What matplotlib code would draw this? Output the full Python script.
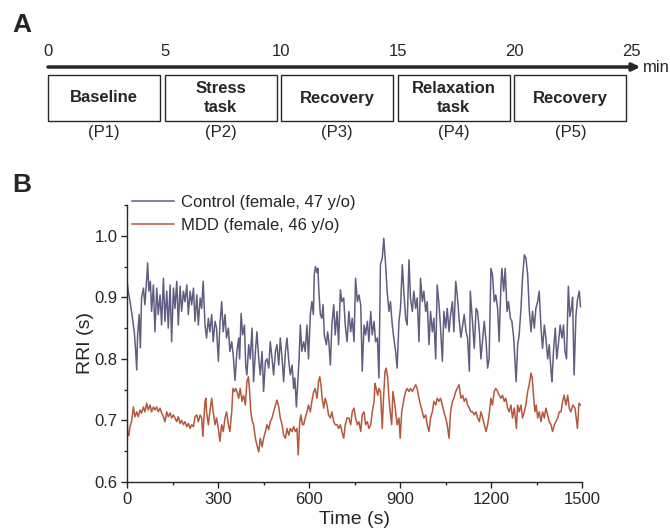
import matplotlib
matplotlib.use('Agg')
import matplotlib.pyplot as plt
from matplotlib.patches import Rectangle
from matplotlib.ticker import MultipleLocator, FormatStrFormatter

plt.rcParams['font.family'] = ['Liberation Sans', 'DejaVu Sans']

# ---- panel A: protocol timeline ----
minute_ticks = [0, 5, 10, 15, 20, 25]
phase_starts = [0, 5, 10, 15, 20]
phase_labels = ['Baseline', 'Stress\ntask', 'Recovery', 'Relaxation\ntask', 'Recovery']
phase_ids = ['(P1)', '(P2)', '(P3)', '(P4)', '(P5)']

# ---- panel B: RRI traces ----
ctrl_t = [0, 4, 10, 15, 21, 24, 28, 32, 35, 40,
          44, 48, 54, 59, 65, 68, 72, 77, 81, 87,
          92, 98, 103, 109, 114, 120, 125, 131, 136, 142,
          147, 153, 158, 164, 169, 175, 180, 186, 191, 197,
          202, 208, 213, 219, 224, 230, 235, 241, 246, 251,
          257, 262, 268, 273, 279, 284, 290, 295, 301, 306,
          312, 317, 323, 328, 334, 339, 345, 350, 356, 362,
          368, 371, 376, 381, 387, 391, 395, 401, 406, 412,
          417, 423, 428, 434, 439, 445, 450, 456, 461, 467,
          472, 478, 483, 489, 494, 500, 505, 511, 516, 522,
          527, 533, 538, 544, 549, 553, 558, 562, 567, 571,
          576, 582, 587, 593, 598, 604, 609, 614, 617, 621,
          626, 629, 632, 637, 642, 646, 650, 657, 661, 665,
          670, 675, 681, 686, 692, 697, 703, 708, 714, 719,
          725, 731, 737, 742, 748, 753, 759, 764, 770, 775,
          781, 786, 792, 797, 803, 808, 814, 819, 825, 830,
          835, 841, 846, 852, 857, 863, 868, 874, 879, 885,
          890, 896, 901, 907, 912, 918, 923, 929, 934, 940,
          945, 951, 956, 962, 967, 973, 978, 984, 989, 995,
          1000, 1006, 1011, 1017, 1022, 1028, 1033, 1039, 1044, 1050,
          1055, 1061, 1066, 1072, 1077, 1083, 1088, 1094, 1100, 1106,
          1111, 1117, 1122, 1128, 1131, 1139, 1144, 1150, 1155, 1161,
          1166, 1172, 1177, 1183, 1188, 1193, 1199, 1204, 1210, 1215,
          1221, 1226, 1232, 1235, 1241, 1246, 1252, 1257, 1263, 1268,
          1274, 1279, 1282, 1287, 1292, 1298, 1303, 1309, 1314, 1320,
          1325, 1331, 1336, 1342, 1347, 1353, 1358, 1364, 1369, 1375,
          1380, 1386, 1391, 1397, 1400, 1405, 1411, 1416, 1422, 1427,
          1433, 1438, 1443, 1448, 1454, 1459, 1465, 1468, 1473, 1479,
          1484, 1490, 1494]
ctrl_rri = [.928, .910, .893, .877, .855, .844, .817, .782, .839, .872,
            .818, .899, .915, .888, .931, .956, .910, .926, .877, .920,
            .844, .915, .872, .904, .855, .931, .861, .910, .850, .920,
            .828, .915, .882, .926, .855, .918, .877, .910, .893, .920,
            .872, .910, .888, .915, .861, .904, .855, .899, .882, .926,
            .855, .834, .866, .844, .872, .828, .861, .850, .796, .855,
            .893, .844, .872, .834, .850, .812, .828, .806, .765, .812,
            .834, .800, .874, .839, .855, .790, .774, .823, .800, .850,
            .763, .812, .844, .800, .774, .812, .747, .796, .800, .785,
            .828, .800, .774, .812, .823, .790, .834, .800, .763, .812,
            .834, .796, .774, .790, .752, .769, .722, .758, .800, .855,
            .812, .828, .812, .855, .800, .872, .893, .872, .937, .950,
            .940, .947, .910, .872, .866, .888, .839, .823, .844, .828,
            .790, .855, .888, .839, .877, .823, .912, .893, .899, .855,
            .828, .877, .844, .866, .828, .931, .893, .904, .888, .780,
            .855, .839, .861, .828, .877, .839, .861, .828, .834, .769,
            .953, .964, .996, .953, .910, .877, .893, .855, .834, .812,
            .785, .861, .882, .953, .910, .866, .855, .961, .899, .877,
            .910, .882, .899, .828, .931, .893, .910, .877, .893, .823,
            .877, .844, .866, .800, .920, .888, .850, .796, .877, .850,
            .882, .844, .872, .893, .844, .926, .904, .866, .835, .855,
            .872, .844, .834, .780, .910, .855, .817, .882, .877, .844,
            .800, .834, .861, .828, .785, .800, .947, .937, .893, .904,
            .882, .828, .920, .947, .910, .947, .877, .893, .866, .861,
            .834, .790, .763, .823, .839, .882, .931, .969, .964, .937,
            .882, .844, .877, .850, .882, .893, .910, .850, .817, .855,
            .834, .800, .823, .780, .763, .812, .850, .800, .828, .855,
            .834, .855, .812, .800, .918, .869, .885, .900, .774, .870,
            .896, .910, .885]

mdd_t = [0, 2, 6, 10, 15, 21, 26, 32, 37, 43,
         48, 54, 59, 65, 70, 76, 81, 87, 92, 98,
         103, 109, 114, 120, 125, 131, 136, 142, 147, 153,
         158, 164, 169, 175, 180, 186, 191, 197, 202, 208,
         213, 219, 224, 230, 235, 241, 246, 250, 253, 257,
         260, 262, 268, 273, 279, 284, 290, 295, 301, 306,
         312, 317, 323, 328, 334, 339, 345, 349, 354, 358,
         362, 368, 373, 379, 384, 390, 395, 400, 404, 408,
         413, 417, 423, 428, 434, 439, 445, 450, 456, 461,
         467, 472, 478, 483, 489, 494, 500, 505, 511, 516,
         522, 527, 533, 538, 544, 549, 555, 560, 564, 569,
         573, 578, 582, 587, 593, 598, 604, 609, 615, 620,
         626, 631, 635, 639, 643, 648, 653, 659, 664, 670,
         675, 681, 686, 692, 697, 703, 708, 714, 719, 725,
         731, 737, 742, 748, 753, 759, 764, 770, 775, 781,
         786, 792, 797, 803, 808, 814, 817, 821, 826, 830,
         835, 841, 845, 850, 854, 859, 863, 867, 872, 876,
         881, 885, 890, 896, 900, 905, 909, 913, 918, 923,
         929, 934, 940, 945, 951, 956, 962, 967, 973, 978,
         984, 989, 995, 1000, 1006, 1011, 1017, 1022, 1028, 1033,
         1039, 1044, 1050, 1055, 1061, 1066, 1072, 1077, 1083, 1088,
         1094, 1100, 1106, 1111, 1117, 1122, 1128, 1133, 1139, 1144,
         1150, 1155, 1161, 1166, 1172, 1177, 1183, 1188, 1193, 1199,
         1204, 1210, 1215, 1221, 1226, 1232, 1237, 1243, 1248, 1254,
         1259, 1265, 1270, 1276, 1283, 1287, 1292, 1298, 1303, 1309,
         1314, 1320, 1325, 1331, 1335, 1340, 1344, 1348, 1353, 1358,
         1364, 1369, 1375, 1380, 1386, 1391, 1397, 1402, 1408, 1413,
         1419, 1424, 1430, 1435, 1440, 1446, 1452, 1457, 1462, 1469,
         1476, 1484, 1489, 1494]
mdd_rri = [.718, .680, .675, .690, .698, .722, .706, .714, .706, .717,
           .712, .722, .714, .728, .717, .725, .714, .722, .717, .722,
           .714, .720, .712, .706, .698, .714, .706, .712, .704, .709,
           .704, .698, .706, .695, .700, .693, .698, .690, .695, .687,
           .693, .690, .706, .709, .698, .709, .704, .674, .700, .731,
           .736, .714, .693, .714, .736, .714, .693, .704, .687, .666,
           .693, .682, .704, .714, .693, .682, .714, .752, .747, .752,
           .747, .736, .752, .731, .741, .725, .763, .771, .747, .714,
           .698, .693, .671, .660, .649, .671, .657, .671, .682, .693,
           .685, .698, .704, .714, .725, .733, .722, .704, .693, .676,
           .671, .687, .676, .687, .682, .690, .682, .687, .644, .698,
           .709, .693, .693, .704, .714, .725, .714, .731, .747, .752,
           .736, .763, .771, .758, .736, .720, .736, .725, .709, .704,
           .714, .698, .693, .693, .687, .693, .682, .671, .693, .704,
           .704, .693, .714, .720, .704, .693, .698, .682, .709, .714,
           .693, .698, .687, .693, .714, .731, .760, .752, .741, .752,
           .747, .687, .736, .779, .785, .769, .736, .714, .693, .747,
           .731, .714, .693, .704, .671, .714, .725, .736, .747, .752,
           .747, .752, .747, .752, .758, .752, .736, .725, .714, .704,
           .709, .693, .682, .704, .714, .731, .725, .736, .731, .736,
           .725, .714, .704, .693, .671, .714, .731, .736, .747, .752,
           .758, .736, .741, .731, .736, .725, .720, .714, .714, .709,
           .714, .704, .698, .714, .704, .693, .682, .693, .709, .736,
           .725, .747, .752, .747, .741, .736, .741, .731, .736, .720,
           .714, .725, .704, .720, .687, .725, .714, .725, .704, .714,
           .725, .747, .758, .777, .769, .736, .714, .725, .704, .714,
           .698, .714, .704, .720, .709, .698, .693, .682, .693, .698,
           .704, .714, .714, .731, .741, .725, .741, .720, .714, .725,
           .720, .687, .728, .725]

series_names = ['Control (female, 47 y/o)', 'MDD (female, 46 y/o)']

TXT = '#262626'
CTRL_COLOR = '#5f5e80'
MDD_COLOR = '#b5583d'

fig = plt.figure(figsize=(6.7, 5.31), dpi=100)

# panel A, y axis in pixel-like units so the layout is easy to place
axA = fig.add_axes([48 / 670, 1 - 160 / 531, 583 / 670, 160 / 531])
axA.set_xlim(0, 25)
axA.set_ylim(160, 0)
axA.axis('off')

for m in minute_ticks:
    axA.text(m, 51, str(m), ha='center', va='center', fontsize=12, color=TXT)
axA.annotate('', xy=(25.4, 67), xytext=(0, 67), annotation_clip=False,
             arrowprops=dict(arrowstyle='-|>,head_length=0.45,head_width=0.22',
                             lw=2.5, color=TXT, shrinkA=0, shrinkB=0))
axA.text(25.5, 67, 'min', ha='left', va='center', fontsize=12, color=TXT)

for start, lab, pid in zip(phase_starts, phase_labels, phase_ids):
    axA.add_patch(Rectangle((start, 75), 4.8, 46, fill=False, lw=1.0,
                            ec=TXT, clip_on=False))
    axA.text(start + 2.4, 98, lab, ha='center', va='center', fontsize=12,
             fontweight='bold', color=TXT, linespacing=1.4)
    axA.text(start + 2.4, 132, pid, ha='center', va='center', fontsize=12,
             color=TXT)

fig.text(22 / 670, 1 - 25 / 531, 'A', ha='center', va='center',
         fontsize=19, fontweight='bold', color=TXT)
fig.text(22 / 670, 1 - 185 / 531, 'B', ha='center', va='center',
         fontsize=19, fontweight='bold', color=TXT)

# panel B
ax = fig.add_axes([127 / 670, 1 - 482 / 531, 455.3 / 670, 277 / 531])
ax.plot(ctrl_t, ctrl_rri, color=CTRL_COLOR, lw=1.1, label=series_names[0])
ax.plot(mdd_t, mdd_rri, color=MDD_COLOR, lw=1.1, label=series_names[1])

ax.set_xlim(0, 1500)
ax.set_ylim(0.6, 1.05)
ax.xaxis.set_major_locator(MultipleLocator(300))
ax.xaxis.set_minor_locator(MultipleLocator(150))
ax.yaxis.set_major_locator(MultipleLocator(0.1))
ax.yaxis.set_minor_locator(MultipleLocator(0.05))
ax.yaxis.set_major_formatter(FormatStrFormatter('%.1f'))

for side in ['top', 'right']:
    ax.spines[side].set_visible(False)
for side in ['left', 'bottom']:
    ax.spines[side].set_color(TXT)
    ax.spines[side].set_linewidth(1.0)
ax.tick_params(which='major', direction='out', length=4, width=1,
               color=TXT, labelcolor=TXT, labelsize=12, pad=3)
ax.tick_params(which='minor', direction='out', length=2.5, width=1, color=TXT)

ax.set_xlabel('Time (s)', fontsize=14, color=TXT, labelpad=3)
ax.set_ylabel('RRI (s)', fontsize=14, color=TXT, labelpad=0)

ax.legend(loc='upper left', bbox_to_anchor=(0.012, 1.035), frameon=False,
          fontsize=12, handlelength=2.5, handletextpad=0.4,
          labelspacing=0.45, borderpad=0, borderaxespad=0,
          labelcolor=TXT)

fig.savefig('out.png', dpi=100)
